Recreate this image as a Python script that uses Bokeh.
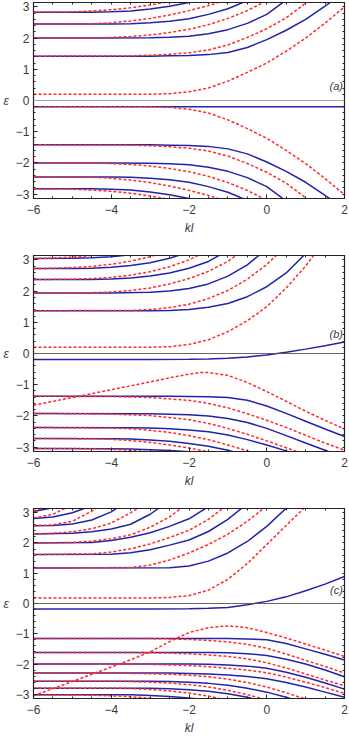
from bokeh.plotting import figure
from bokeh.models import Range1d, LinearAxis, FixedTicker, Span
from bokeh.layouts import column
from bokeh.core.properties import value
from bokeh.embed import file_html
from bokeh.resources import INLINE

# ---------------- axis ticks / labels ----------------
x_ticks = [-6, -4, -2, 0, 2]
x_tick_labels = ["\u22126", "\u22124", "\u22122", "0", "2"]
y_ticks = [-3, -2, -1, 0, 1, 2, 3]
y_tick_labels = ["\u22123", "\u22122", "\u22121", "0", "1", "2", "3"]
panel_tags = ["(a)", "(b)", "(c)"]

# ---------------- panel (a) : (kl, eps) ----------------
a_blue0 = [(-6, -0.2), (2, -0.2)]
a_red0 = [(-6, 0.2), (-3, 0.2), (-2.5, 0.22), (-2, 0.28), (-1.5, 0.4), (-1, 0.62), (-0.5, 0.9), (0, 1.2), (0.5, 1.58), (1, 2.0), (1.5, 2.48), (2, 3.0)]
a_blue1 = [(-6, 1.42), (-3, 1.42), (-2.5, 1.43), (-2, 1.44), (-1.5, 1.47), (-1, 1.54), (-0.5, 1.7), (0, 1.95), (0.5, 2.25), (1, 2.6), (1.5, 3.02), (1.8, 3.3)]
a_red1 = [(-6, 1.42), (-3.5, 1.43), (-3, 1.45), (-2.5, 1.48), (-2, 1.53), (-1.5, 1.62), (-1, 1.78), (-0.5, 2.02), (0, 2.3), (0.5, 2.65), (1, 3.12), (1.3, 3.45)]
a_blue2 = [(-6, 2.0), (-4, 2.0), (-3, 2.01), (-2.5, 2.03), (-2, 2.06), (-1.5, 2.14), (-1, 2.27), (-0.5, 2.47), (0, 2.76), (0.5, 3.22), (0.8, 3.45)]
a_red2 = [(-6, 2.0), (-4.5, 2.0), (-4, 2.02), (-3.5, 2.05), (-3, 2.1), (-2.5, 2.18), (-2, 2.28), (-1.5, 2.43), (-1, 2.63), (-0.5, 2.88), (0, 3.2), (0.3, 3.45)]
a_blue3 = [(-6, 2.45), (-4, 2.45), (-3.5, 2.46), (-3, 2.49), (-2.5, 2.54), (-2, 2.62), (-1.5, 2.76), (-1, 2.94), (-0.5, 3.2), (-0.2, 3.4)]
a_red3 = [(-6, 2.45), (-4.5, 2.46), (-4, 2.49), (-3.5, 2.55), (-3, 2.63), (-2.5, 2.74), (-2, 2.88), (-1.5, 3.04), (-1, 3.24), (-0.7, 3.4)]
a_blue4 = [(-6, 2.83), (-4.5, 2.83), (-4, 2.84), (-3.5, 2.87), (-3, 2.93), (-2.5, 3.02), (-2, 3.14), (-1.7, 3.3)]
a_red4 = [(-6, 2.83), (-5, 2.84), (-4.5, 2.87), (-4, 2.91), (-3.5, 2.97), (-3, 3.06), (-2.5, 3.17), (-2, 3.35)]
a_red0m = [(-6, -0.2), (-3, -0.2), (-2.5, -0.22), (-2, -0.28), (-1.5, -0.4), (-1, -0.62), (-0.5, -0.9), (0, -1.21), (0.5, -1.6), (1, -2.02), (1.5, -2.5), (2, -3.02)]
a_blue1m = [(-6, -1.42), (-3, -1.42), (-2.5, -1.43), (-2, -1.44), (-1.5, -1.47), (-1, -1.55), (-0.5, -1.71), (0, -1.97), (0.5, -2.27), (1, -2.62), (1.5, -3.04), (1.8, -3.3)]
a_red1m = [(-6, -1.42), (-3.5, -1.43), (-3, -1.45), (-2.5, -1.48), (-2, -1.53), (-1.5, -1.62), (-1, -1.78), (-0.5, -2.02), (0, -2.3), (0.5, -2.65), (1, -3.12), (1.3, -3.45)]
a_blue2m = [(-6, -2.0), (-4, -2.0), (-3, -2.01), (-2.5, -2.03), (-2, -2.06), (-1.5, -2.14), (-1, -2.27), (-0.5, -2.47), (0, -2.76), (0.5, -3.22), (0.8, -3.45)]
a_red2m = [(-6, -2.0), (-4.5, -2.0), (-4, -2.02), (-3.5, -2.05), (-3, -2.1), (-2.5, -2.18), (-2, -2.28), (-1.5, -2.43), (-1, -2.63), (-0.5, -2.88), (0, -3.2), (0.3, -3.45)]
a_blue3m = [(-6, -2.45), (-4, -2.45), (-3.5, -2.46), (-3, -2.49), (-2.5, -2.54), (-2, -2.62), (-1.5, -2.76), (-1, -2.94), (-0.5, -3.2), (-0.2, -3.4)]
a_red3m = [(-6, -2.45), (-4.5, -2.46), (-4, -2.49), (-3.5, -2.55), (-3, -2.63), (-2.5, -2.74), (-2, -2.88), (-1.5, -3.04), (-1, -3.24), (-0.7, -3.4)]
a_blue4m = [(-6, -2.83), (-4.5, -2.83), (-4, -2.84), (-3.5, -2.87), (-3, -2.93), (-2.5, -3.02), (-2, -3.14), (-1.7, -3.3)]
a_red4m = [(-6, -2.83), (-5, -2.84), (-4.5, -2.87), (-4, -2.91), (-3.5, -2.97), (-3, -3.06), (-2.5, -3.17), (-2, -3.35)]

# ---------------- panel (b) ----------------
b_blue0 = [(-6, -0.19), (-3, -0.19), (-2, -0.185), (-1.5, -0.175), (-1, -0.15), (-0.5, -0.11), (0, -0.05), (0.5, 0.04), (1, 0.14), (1.5, 0.25), (2, 0.37)]
b_red0 = [(-6, 0.2), (-3, 0.2), (-2.5, 0.22), (-2, 0.29), (-1.5, 0.44), (-1, 0.7), (-0.5, 1.05), (0, 1.5), (0.5, 2.1), (1, 2.8), (1.3, 3.3)]
b_blue1 = [(-6, 1.37), (-3, 1.37), (-2.5, 1.38), (-2, 1.41), (-1.5, 1.48), (-1, 1.6), (-0.5, 1.82), (0, 2.14), (0.5, 2.58), (1, 3.2), (1.2, 3.5)]
b_red1 = [(-6, 1.37), (-3.5, 1.38), (-3, 1.41), (-2.5, 1.47), (-2, 1.58), (-1.5, 1.76), (-1, 2.02), (-0.5, 2.38), (0, 2.85), (0.5, 3.45)]
b_blue2 = [(-6, 1.94), (-4, 1.94), (-3, 1.96), (-2.5, 2.0), (-2, 2.08), (-1.5, 2.23), (-1, 2.48), (-0.5, 2.84), (0, 3.35)]
b_red2 = [(-6, 1.94), (-4.5, 1.95), (-4, 1.97), (-3.5, 2.02), (-3, 2.1), (-2.5, 2.23), (-2, 2.4), (-1.5, 2.63), (-1, 2.95), (-0.5, 3.4)]
b_blue3 = [(-6, 2.37), (-4.5, 2.37), (-4, 2.39), (-3.5, 2.42), (-3, 2.48), (-2.5, 2.58), (-2, 2.73), (-1.5, 2.95), (-1, 3.3)]
b_red3 = [(-6, 2.37), (-5, 2.38), (-4.5, 2.4), (-4, 2.44), (-3.5, 2.51), (-3, 2.62), (-2.5, 2.78), (-2, 3.0), (-1.5, 3.3)]
b_blue4 = [(-6, 2.72), (-5, 2.72), (-4.5, 2.73), (-4, 2.76), (-3.5, 2.82), (-3, 2.91), (-2.5, 3.05), (-2, 3.25)]
b_red4 = [(-6, 2.72), (-5.5, 2.73), (-5, 2.75), (-4.5, 2.79), (-4, 2.86), (-3.5, 2.96), (-3, 3.1), (-2.5, 3.3)]
b_blue5 = [(-6, 3.04), (-5, 3.05), (-4.5, 3.07), (-4, 3.1), (-3.5, 3.16), (-3, 3.25)]
b_red5 = [(-6, 3.04), (-5.5, 3.06), (-5, 3.09), (-4.5, 3.14), (-4, 3.22)]
b_red0m = [(-6, -1.66), (-5, -1.41), (-4, -1.16), (-3, -0.91), (-2.5, -0.78), (-2, -0.66), (-1.7, -0.61), (-1.5, -0.61), (-1, -0.7), (-0.5, -0.93), (0, -1.22), (0.5, -1.53), (1, -1.85), (1.5, -2.14), (2, -2.42)]
b_blue1m = [(-6, -1.37), (-2.5, -1.37), (-2, -1.375), (-1.5, -1.385), (-1, -1.41), (-0.5, -1.5), (0, -1.68), (0.5, -1.92), (1, -2.17), (1.5, -2.42), (2, -2.66)]
b_red1m = [(-6, -1.37), (-4, -1.38), (-3, -1.41), (-2, -1.5), (-1.5, -1.6), (-1, -1.74), (-0.5, -1.93), (0, -2.14), (0.5, -2.37), (1, -2.62), (1.5, -2.87), (2, -3.1)]
b_blue2m = [(-6, -1.92), (-3, -1.93), (-2, -1.96), (-1.5, -2.0), (-1, -2.08), (-0.5, -2.21), (0, -2.4), (0.5, -2.63), (1, -2.87), (1.5, -3.1), (1.8, -3.25)]
b_red2m = [(-6, -1.92), (-4, -1.94), (-3, -1.99), (-2, -2.12), (-1.5, -2.24), (-1, -2.4), (-0.5, -2.59), (0, -2.8), (0.5, -3.02), (1, -3.25), (1.3, -3.4)]
b_blue3m = [(-6, -2.37), (-3.5, -2.38), (-3, -2.39), (-2.5, -2.41), (-2, -2.45), (-1.5, -2.51), (-1, -2.61), (-0.5, -2.76), (0, -2.93), (0.5, -3.12), (1, -3.35)]
b_red3m = [(-6, -2.37), (-4, -2.39), (-3.5, -2.41), (-3, -2.46), (-2.5, -2.53), (-2, -2.63), (-1.5, -2.76), (-1, -2.93), (-0.5, -3.12), (0, -3.35)]
b_blue4m = [(-6, -2.72), (-4, -2.73), (-3.5, -2.74), (-3, -2.77), (-2.5, -2.81), (-2, -2.88), (-1.5, -2.97), (-1, -3.1), (-0.5, -3.27)]
b_red4m = [(-6, -2.72), (-4.5, -2.73), (-4, -2.75), (-3.5, -2.79), (-3, -2.85), (-2.5, -2.93), (-2, -3.03), (-1.5, -3.15), (-1, -3.3)]
b_blue5m = [(-6, -3.04), (-4, -3.05), (-3.5, -3.06), (-3, -3.08), (-2.5, -3.11), (-2, -3.15), (-1.5, -3.2)]
b_red5m = [(-6, -3.04), (-4.5, -3.05), (-4, -3.07), (-3.5, -3.1), (-3, -3.15), (-2.5, -3.22)]

# ---------------- panel (c) ----------------
c_blue0 = [(-6, -0.18), (-3, -0.18), (-2, -0.17), (-1.5, -0.155), (-1, -0.13), (-0.5, -0.04), (0, 0.07), (0.5, 0.22), (1, 0.42), (1.5, 0.64), (2, 0.89)]
c_red0 = [(-6, 0.18), (-3, 0.18), (-2.5, 0.2), (-2, 0.26), (-1.5, 0.44), (-1, 0.8), (-0.5, 1.32), (0, 1.95), (0.5, 2.58), (1, 3.2), (1.2, 3.45)]
c_blue1 = [(-6, 1.17), (-2.5, 1.18), (-2, 1.24), (-1.5, 1.4), (-1, 1.67), (-0.5, 2.05), (0, 2.55), (0.5, 3.15), (0.8, 3.5)]
c_red1 = [(-6, 1.17), (-3.5, 1.19), (-3, 1.27), (-2.5, 1.44), (-2, 1.67), (-1.5, 1.95), (-1, 2.29), (-0.5, 2.72), (0, 3.22), (0.3, 3.55)]
c_blue2 = [(-6, 1.62), (-4, 1.63), (-3.5, 1.68), (-3, 1.78), (-2.5, 1.93), (-2, 2.1), (-1.5, 2.38), (-1, 2.78), (-0.5, 3.3), (-0.2, 3.6)]
c_red2 = [(-6, 1.62), (-4.5, 1.64), (-4, 1.7), (-3.5, 1.81), (-3, 1.97), (-2.5, 2.18), (-2, 2.42), (-1.5, 2.78), (-1, 3.28), (-0.7, 3.6)]
c_blue3 = [(-6, 2.0), (-4.5, 2.02), (-4, 2.08), (-3.5, 2.19), (-3, 2.34), (-2.5, 2.55), (-2, 2.8), (-1.5, 3.2), (-1.2, 3.5)]
c_red3 = [(-6, 2.0), (-5, 2.02), (-4.5, 2.06), (-4, 2.14), (-3.5, 2.27), (-3, 2.52), (-2.5, 2.86), (-2, 3.35)]
c_blue4 = [(-6, 2.3), (-5, 2.32), (-4.5, 2.37), (-4, 2.46), (-3.5, 2.62), (-3, 2.95), (-2.5, 3.4)]
c_red4 = [(-6, 2.3), (-5.5, 2.32), (-5, 2.37), (-4.5, 2.47), (-4, 2.66), (-3.5, 3.0), (-3, 3.4)]
c_blue5 = [(-6, 2.57), (-5.5, 2.58), (-5, 2.63), (-4.5, 2.76), (-4, 3.03), (-3.5, 3.45)]
c_red5 = [(-6, 2.57), (-5.5, 2.6), (-5, 2.72), (-4.5, 3.05), (-4, 3.5)]
c_blue6 = [(-6, 2.81), (-5.5, 2.86), (-5, 3.0), (-4.7, 3.14), (-4.4, 3.35)]
c_red6 = [(-6, 2.82), (-5.5, 2.95), (-5.2, 3.14), (-4.9, 3.35)]
c_blue7 = [(-6, 3.04), (-5.6, 3.14), (-5.3, 3.3)]
c_red7 = [(-6, 3.06), (-5.8, 3.14), (-5.5, 3.3)]
c_red0m = [(-6, -3.05), (-5, -2.58), (-4, -2.1), (-3.5, -1.86), (-3, -1.6), (-2.5, -1.26), (-2, -0.96), (-1.5, -0.8), (-1, -0.74), (-0.5, -0.8), (0, -0.96), (0.5, -1.14), (1, -1.34), (1.5, -1.54), (2, -1.75)]
c_blue1m = [(-6, -1.16), (-1, -1.16), (-0.5, -1.17), (0, -1.2), (0.5, -1.32), (1, -1.5), (1.5, -1.68), (2, -1.87)]
c_red1m = [(-6, -1.16), (-3, -1.16), (-2.5, -1.17), (-2, -1.19), (-1.5, -1.22), (-1, -1.27), (-0.5, -1.35), (0, -1.48), (0.5, -1.67), (1, -1.88), (1.5, -2.08), (2, -2.3)]
c_blue2m = [(-6, -1.62), (-1.5, -1.62), (-1, -1.63), (-0.5, -1.66), (0, -1.72), (0.5, -1.84), (1, -2.0), (1.5, -2.2), (2, -2.42)]
c_red2m = [(-6, -1.62), (-3.5, -1.62), (-3, -1.63), (-2.5, -1.64), (-2, -1.66), (-1.5, -1.7), (-1, -1.75), (-0.5, -1.83), (0, -1.96), (0.5, -2.13), (1, -2.33), (1.5, -2.53), (2, -2.72)]
c_blue3m = [(-6, -2.0), (-2, -2.0), (-1.5, -2.01), (-1, -2.03), (-0.5, -2.07), (0, -2.14), (0.5, -2.27), (1, -2.44), (1.5, -2.63), (2, -2.83)]
c_red3m = [(-6, -2.0), (-4, -2.0), (-3, -2.01), (-2.5, -2.03), (-2, -2.05), (-1.5, -2.09), (-1, -2.14), (-0.5, -2.2), (0, -2.29), (0.5, -2.43), (1, -2.6), (1.5, -2.78), (2, -2.97)]
c_blue4m = [(-6, -2.3), (-2.5, -2.3), (-2, -2.31), (-1.5, -2.33), (-1, -2.36), (-0.5, -2.41), (0, -2.49), (0.5, -2.61), (1, -2.76), (1.5, -2.93), (2, -3.1)]
c_red4m = [(-6, -2.3), (-4, -2.3), (-3, -2.32), (-2.5, -2.34), (-2, -2.37), (-1.5, -2.42), (-1, -2.5), (-0.5, -2.61), (0, -2.76), (0.5, -2.95), (1, -3.16), (1.5, -3.38)]
c_blue5m = [(-6, -2.57), (-3, -2.57), (-2.5, -2.58), (-2, -2.6), (-1.5, -2.64), (-1, -2.7), (-0.5, -2.8), (0, -2.93), (0.5, -3.1), (1, -3.3)]
c_red5m = [(-6, -2.57), (-4, -2.57), (-3.5, -2.58), (-3, -2.6), (-2.5, -2.63), (-2, -2.68), (-1.5, -2.76), (-1, -2.87), (-0.5, -3.01), (0, -3.19), (0.5, -3.4)]
c_blue6m = [(-6, -2.8), (-3, -2.8), (-2.5, -2.82), (-2, -2.85), (-1.5, -2.9), (-1, -2.98), (-0.5, -3.1), (0, -3.26)]
c_red6m = [(-6, -2.8), (-4, -2.8), (-3.5, -2.81), (-3, -2.84), (-2.5, -2.89), (-2, -2.96), (-1.5, -3.06), (-1, -3.2)]
c_blue7m = [(-6, -3.02), (-3.5, -3.02), (-3, -3.04), (-2.5, -3.07), (-2, -3.12), (-1.5, -3.2)]
c_red7m = [(-6, -3.02), (-4.5, -3.03), (-4, -3.05), (-3.5, -3.08), (-3, -3.13), (-2.5, -3.2)]

A_BLUE = [a_blue0, a_blue1, a_blue2, a_blue3, a_blue4, a_blue1m, a_blue2m, a_blue3m, a_blue4m]
A_RED = [a_red0, a_red1, a_red2, a_red3, a_red4, a_red0m, a_red1m, a_red2m, a_red3m, a_red4m]
B_BLUE = [b_blue0, b_blue1, b_blue2, b_blue3, b_blue4, b_blue5, b_blue1m, b_blue2m, b_blue3m, b_blue4m, b_blue5m]
B_RED = [b_red0, b_red1, b_red2, b_red3, b_red4, b_red5, b_red0m, b_red1m, b_red2m, b_red3m, b_red4m, b_red5m]
C_BLUE = [c_blue0, c_blue1, c_blue2, c_blue3, c_blue4, c_blue5, c_blue6, c_blue7,
          c_blue1m, c_blue2m, c_blue3m, c_blue4m, c_blue5m, c_blue6m, c_blue7m]
C_RED = [c_red0, c_red1, c_red2, c_red3, c_red4, c_red5, c_red6, c_red7,
         c_red0m, c_red1m, c_red2m, c_red3m, c_red4m, c_red5m, c_red6m, c_red7m]

BLUE = "#2222aa"
RED = "#ff2b2b"
FONT = "Liberation Sans"
TXT = "#3a3a3a"
FRAME = "#222222"

X_MINOR = [-6 + 0.5 * i for i in range(17)]
Y_MINOR = [round(-3 + 0.2 * i, 2) for i in range(31)]


def style_main_axis(ax, ticks, minor, labels):
    ax.ticker = FixedTicker(ticks=ticks, minor_ticks=minor)
    ax.major_tick_in = 4
    ax.major_tick_out = 0
    ax.minor_tick_in = 2
    ax.minor_tick_out = 0
    ax.axis_line_color = FRAME
    ax.major_tick_line_color = FRAME
    ax.minor_tick_line_color = FRAME
    ax.major_label_overrides = {t: l for t, l in zip(ticks, labels)}
    ax.major_label_text_font = FONT
    ax.major_label_text_font_size = "12px"
    ax.major_label_text_color = TXT


def edge_axis(minor):
    # an axis with tick marks only (no major ticks -> no label texts)
    ax = LinearAxis(ticker=FixedTicker(ticks=[], minor_ticks=minor))
    ax.minor_tick_in = 2
    ax.minor_tick_out = 0
    ax.major_tick_in = 0
    ax.major_tick_out = 0
    ax.major_label_standoff = 0
    ax.axis_label_standoff = 0
    ax.axis_line_color = FRAME
    ax.minor_tick_line_color = FRAME
    return ax


def make_panel(blues, reds, tag, tag_xy, height, top, bottom, zero_color, zero_width):
    p = figure(width=349, height=height, x_range=Range1d(-6, 2), y_range=Range1d(-3.14, 3.14),
               output_backend="svg", toolbar_location=None,
               min_border_left=30, min_border_right=5, min_border_top=top, min_border_bottom=bottom)
    p.xgrid.visible = False
    p.ygrid.visible = False
    p.outline_line_color = FRAME
    p.outline_line_width = 1.2
    p.background_fill_color = "white"
    p.border_fill_color = "white"

    bx = p.below[0]
    style_main_axis(bx, x_ticks, X_MINOR, x_tick_labels)
    bx.major_label_standoff = 6
    bx.axis_label = "kl"
    bx.axis_label_text_font = FONT
    bx.axis_label_text_font_style = "italic"
    bx.axis_label_text_font_size = "12px"
    bx.axis_label_text_color = TXT
    bx.axis_label_standoff = 4

    ly = p.left[0]
    style_main_axis(ly, y_ticks, Y_MINOR, y_tick_labels)
    ly.major_label_standoff = 4
    ly.axis_label = "\u03b5"
    ly.axis_label_orientation = "horizontal"
    ly.axis_label_text_font = FONT
    ly.axis_label_text_font_style = "italic"
    ly.axis_label_text_font_size = "12px"
    ly.axis_label_text_color = TXT
    ly.axis_label_standoff = 4

    p.add_layout(edge_axis(X_MINOR), "above")
    p.add_layout(edge_axis(Y_MINOR), "right")

    p.add_layout(Span(location=0, dimension="width", line_color=zero_color, line_width=zero_width))

    for c in blues:
        p.line([k for k, _ in c], [e for _, e in c], line_color=BLUE, line_width=1.5)
    for c in reds:
        p.line([k for k, _ in c], [e for _, e in c], line_color=RED, line_width=1.5, line_dash="3 2")

    p.text(x=[tag_xy[0]], y=[tag_xy[1]], text=[tag], text_font=value(FONT), text_font_style="italic",
           text_font_size="11px", text_align="right", text_baseline="middle", text_color=TXT)
    return p


p1 = make_panel(A_BLUE, A_RED, panel_tags[0], (1.96, 0.45), 253, 2, 55, "#a8a8a8", 1.2)
p2 = make_panel(B_BLUE, B_RED, panel_tags[1], (1.96, 0.64), 253, 2, 55, "#555555", 0.9)
p3 = make_panel(C_BLUE, C_RED, panel_tags[2], (1.96, 0.45), 231, 2, 36, "#555555", 0.9)

layout = column(p1, p2, p3)
open("out.html", "w").write(file_html(layout, INLINE))
